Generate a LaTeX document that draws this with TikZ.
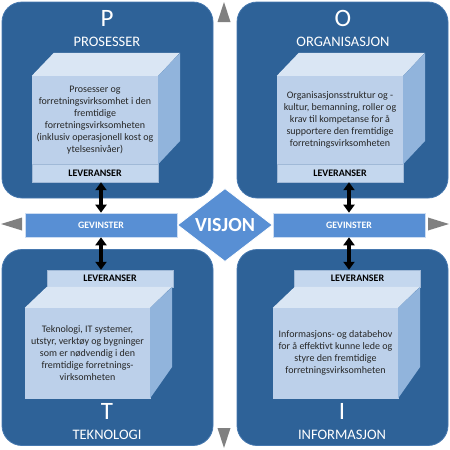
\documentclass[tikz,border=0pt]{standalone}
\usepackage{fontspec}
\setmainfont{Carlito}
\usetikzlibrary{shapes.geometric,arrows.meta}
\definecolor{darkbox}{RGB}{46,98,152}
\definecolor{boxedge}{RGB}{70,120,175}
\definecolor{midblue}{RGB}{88,143,212}
\definecolor{cubefront}{RGB}{188,208,234}
\definecolor{cubetop}{RGB}{218,230,244}
\definecolor{cubeside}{RGB}{145,180,220}
\definecolor{stripfill}{RGB}{196,215,238}
\definecolor{stripline}{RGB}{160,185,215}
\definecolor{tri}{RGB}{128,128,128}
\tikzset{
  areabox/.style={draw=boxedge, line width=0.8pt, fill=darkbox, rounded corners=20pt, minimum width=211pt, minimum height=196pt, inner sep=0pt},
  bigletter/.style={text=white, font=\fontsize{25}{28}\selectfont, inner sep=0pt},
  areatitle/.style={text=white, font=\fontsize{14.5}{16}\selectfont, inner sep=0pt},
  cubeface/.style={fill=cubefront, draw=cubefront, inner sep=0pt, align=center, font=\fontsize{10}{12}\selectfont, text=black!85},
  stripbox/.style={fill=stripfill, draw=stripline, line width=0.4pt, inner sep=0pt, font=\bfseries\fontsize{10}{11}\selectfont, text=black},
  gevbox/.style={fill=midblue, draw=white!70!midblue, line width=0.6pt, minimum width=152pt, minimum height=24pt, inner sep=0pt, font=\bfseries\fontsize{9.8}{11}\selectfont, text=white},
  dbl/.style={line width=3.2pt, {Triangle[width=11pt,length=8pt]}-{Triangle[width=11pt,length=8pt]}, black},
  tri/.style={fill=tri, draw=none}
}
\begin{document}
\begin{tikzpicture}[x=1pt,y=-1pt]
\useasboundingbox (0,0) rectangle (450,450);
% area boxes
\node[areabox] (bP) at (107.5,100) {};
\node[areabox] (bO) at (342.5,100) {};
\node[areabox] (bT) at (107.5,347.5) {};
\node[areabox] (bI) at (342.5,347.5) {};
% titles
\node[bigletter] (lP) at (107,18) {P};
\node[areatitle] (tP) at (107,42) {PROSESSER};
\node[bigletter] (lO) at (343,18) {O};
\node[areatitle] (tO) at (343,42) {ORGANISASJON};
\node[bigletter] (lT) at (107,411) {T};
\node[areatitle] (tT) at (107,435) {TEKNOLOGI};
\node[bigletter] (lI) at (342,411) {I};
\node[areatitle] (tI) at (342,435) {INFORMASJON};
% cube P
\node[cubeface, minimum width=126pt, minimum height=88pt] (cP) at (95,120)
  {Prosesser og\\ forretningsvirksomhet i den\\ fremtidige\\ forretningsvirksomheten\\ (inklusiv operasjonell kost og\\ ytelsesnivåer)};
\fill[cubetop] (cP.north west) -- ++(22,-23) -- ++(126,0) -- (cP.north east) -- cycle;
\fill[cubeside] (cP.north east) -- ++(22,-23) -- ++(0,88) -- (cP.south east) -- cycle;
\node[stripbox, minimum width=126pt, minimum height=18pt] (sP) at (95,173) {LEVERANSER};
% cube O
\node[cubeface, minimum width=126pt, minimum height=88pt] (cO) at (340,120)
  {Organisasjonsstruktur og -\\ kultur, bemanning, roller og\\ krav til kompetanse for å\\ supportere den fremtidige\\ forretningsvirksomheten};
\fill[cubetop] (cO.north west) -- ++(22,-23) -- ++(126,0) -- (cO.north east) -- cycle;
\fill[cubeside] (cO.north east) -- ++(22,-23) -- ++(0,88) -- (cO.south east) -- cycle;
\node[stripbox, minimum width=126pt, minimum height=18pt] (sO) at (340,173) {LEVERANSER};
% cube T
\node[stripbox, minimum width=126pt, minimum height=17pt] (sT) at (110,278.5) {LEVERANSER};
\node[cubeface, minimum width=125pt, minimum height=90pt] (cT) at (87.5,353)
  {Teknologi, IT systemer,\\ utstyr, verktøy og bygninger\\ som er nødvendig i den\\ fremtidige forretnings-\\ virksomheten};
\fill[cubetop] (cT.north west) -- ++(22,-21) -- ++(125,0) -- (cT.north east) -- cycle;
\fill[cubeside] (cT.north east) -- ++(22,-21) -- ++(0,80) -- (cT.south east) -- cycle;
% cube I
\node[stripbox, minimum width=126pt, minimum height=17pt] (sI) at (357.5,278.5) {LEVERANSER};
\node[cubeface, minimum width=125pt, minimum height=90pt] (cI) at (335.5,353)
  {Informasjons- og databehov\\ for å effektivt kunne lede og\\ styre den fremtidige\\ forretningsvirksomheten};
\fill[cubetop] (cI.north west) -- ++(22,-21) -- ++(125,0) -- (cI.north east) -- cycle;
\fill[cubeside] (cI.north east) -- ++(22,-21) -- ++(0,80) -- (cI.south east) -- cycle;
% gevinster bars
\node[gevbox] (gL) at (101,225) {GEVINSTER};
\node[gevbox] (gR) at (349,225) {GEVINSTER};
% vision diamond
\node[diamond, fill=midblue, draw=white, line width=0.8pt, minimum width=95pt, minimum height=71pt, inner sep=0pt, text=white, font=\bfseries\fontsize{20}{22}\selectfont] (vis) at (225,225) {VISJON};
% arrows
\draw[dbl] (gL.north) -- (gL.north |- sP.south);
\draw[dbl] (gR.north) -- (gR.north |- sO.south);
\draw[dbl] (gL.south) -- (gL.south |- sT.north);
\draw[dbl] (gR.south) -- (gR.south |- sI.north);
% gray triangles
\fill[tri] (224,2) -- (230.5,22) -- (217.5,22) -- cycle;
\fill[tri] (224,448) -- (230.5,428) -- (217.5,428) -- cycle;
\fill[tri] (1,224) -- (22,217.5) -- (22,230.5) -- cycle;
\fill[tri] (449,224) -- (428,217.5) -- (428,230.5) -- cycle;
\end{tikzpicture}
\end{document}
